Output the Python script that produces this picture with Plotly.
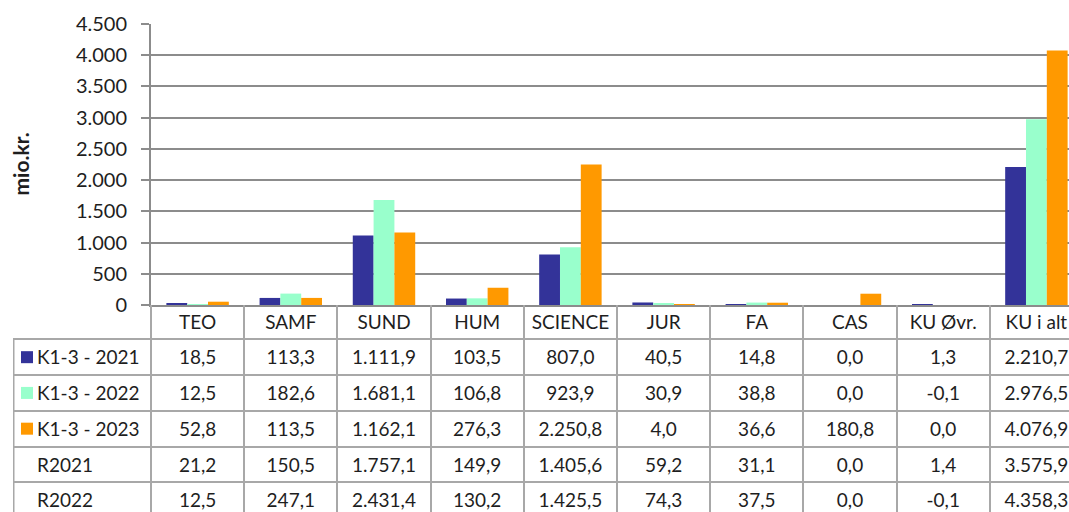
import plotly.graph_objects as go

# ---------------- data ----------------
categories = ["TEO", "SAMF", "SUND", "HUM", "SCIENCE", "JUR", "FA", "CAS", "KU Øvr.", "KU i alt"]
k13_2021 = [18.5, 113.3, 1111.9, 103.5, 807.0, 40.5, 14.8, 0.0, 1.3, 2210.7]
k13_2022 = [12.5, 182.6, 1681.1, 106.8, 923.9, 30.9, 38.8, 0.0, -0.1, 2976.5]
k13_2023 = [52.8, 113.5, 1162.1, 276.3, 2250.8, 4.0, 36.6, 180.8, 0.0, 4076.9]
r2021 = [21.2, 150.5, 1757.1, 149.9, 1405.6, 59.2, 31.1, 0.0, 1.4, 3575.9]
r2022 = [12.5, 247.1, 2431.4, 130.2, 1425.5, 74.3, 37.5, 0.0, -0.1, 4358.3]
bar_series = ["K1-3 - 2021", "K1-3 - 2022", "K1-3 - 2023"]
table_rows = ["K1-3 - 2021", "K1-3 - 2022", "K1-3 - 2023", "R2021", "R2022"]
y_ticks = [0, 500, 1000, 1500, 2000, 2500, 3000, 3500, 4000, 4500]
y_ticklabels = ["0", "500", "1.000", "1.500", "2.000", "2.500", "3.000", "3.500", "4.000", "4.500"]
y_title = "mio.kr."

# ---------------- style ----------------
colors = ["#333399", "#99FFCC", "#FF9900"]
FONT = "Lato"
TXT = "#1e1e1e"
GRID = "#8c8c8c"
TABLE_LINE = "#a8a8a8"
FS = 19

W, H = 1069, 512
plot_left_px, table_left_px = 151, 13
col_px = 93.2
plot_top_px, axis_px = 24, 305
header_bottom_px, row_px = 339.3, 35.75
text_dy = 0.07  # small downward nudge of table text within its row


def fmt(v):
    s = f"{v:,.1f}"
    return s.replace(",", "X").replace(".", ",").replace("X", ".")


x_end = -0.5 + (W - plot_left_px) / col_px
x2_start = -0.5 - (plot_left_px - table_left_px) / col_px
y2_top = 0.5 - (header_bottom_px - axis_px) / row_px
y2_bot = 0.5 + (H - header_bottom_px) / row_px

fig = go.Figure()

for name, vals, c in zip(bar_series, [k13_2021, k13_2022, k13_2023], colors):
    fig.add_trace(go.Bar(x=categories, y=vals, name=name, marker=dict(color=c, line=dict(width=0)),
                         xaxis="x", yaxis="y", showlegend=False))

idx = list(range(len(categories)))
# header row
fig.add_trace(go.Scatter(x=idx, y=[0 + text_dy] * len(idx), text=categories, mode="text",
                         textposition="middle center", textfont=dict(family=FONT, size=FS, color=TXT),
                         xaxis="x2", yaxis="y2", showlegend=False, hoverinfo="skip", cliponaxis=False))
# data rows
for r, vals in enumerate([k13_2021, k13_2022, k13_2023, r2021, r2022], start=1):
    fig.add_trace(go.Scatter(x=idx, y=[r + text_dy] * len(idx), text=[fmt(v) for v in vals], mode="text",
                             textposition="middle center", textfont=dict(family=FONT, size=FS, color=TXT),
                             xaxis="x2", yaxis="y2", showlegend=False, hoverinfo="skip", cliponaxis=False))
# legend column
rows_y = list(range(1, len(table_rows) + 1))
fig.add_trace(go.Scatter(x=[x2_start + 24 / col_px] * len(table_rows), y=[r + text_dy for r in rows_y],
                         text=table_rows, mode="text", textposition="middle right",
                         textfont=dict(family=FONT, size=FS, color=TXT),
                         xaxis="x2", yaxis="y2", showlegend=False, hoverinfo="skip"))
fig.add_trace(go.Scatter(x=[x2_start + 14 / col_px] * len(bar_series), y=rows_y[:len(bar_series)],
                         mode="markers", marker=dict(symbol="square", size=12, color=colors, line=dict(width=0)),
                         xaxis="x2", yaxis="y2", showlegend=False, hoverinfo="skip"))

# left border of the data rows (not header)
fig.add_shape(type="line", xref="x2", yref="y2", x0=x2_start + 0.008, x1=x2_start + 0.008,
              y0=0.5, y1=y2_bot, line=dict(color=TABLE_LINE, width=1.5))

y_dom = [(H - axis_px) / H, (H - plot_top_px) / H]
fig.update_layout(
    template="none",
    width=W, height=H, autosize=False,
    margin=dict(l=0, r=0, t=0, b=0, pad=0),
    paper_bgcolor="white", plot_bgcolor="rgba(0,0,0,0)",
    barmode="group", bargap=0.33, bargroupgap=0,
    font=dict(family=FONT, size=FS, color=TXT),
    xaxis=dict(domain=[plot_left_px / W, 1], type="category", range=[-0.5, x_end], automargin=False,
               showticklabels=False, ticks="", showgrid=False, zeroline=False,
               showline=True, linecolor=GRID, linewidth=2, anchor="y"),
    yaxis=dict(domain=y_dom, range=[0, 4500], tickvals=y_ticks, ticktext=y_ticklabels, automargin=False,
               showgrid=True, gridcolor=GRID, gridwidth=2, zeroline=False,
               showline=True, linecolor=GRID, linewidth=2,
               ticks="outside", ticklen=8, tickcolor=GRID, tickwidth=2, ticklabelstandoff=10,
               tickfont=dict(family=FONT, size=FS + 1, color=TXT), anchor="x"),
    xaxis2=dict(domain=[table_left_px / W, 1], range=[x2_start, x_end], automargin=False,
                tickvals=[i - 0.5 for i in idx], showticklabels=False, ticks="",
                showgrid=True, gridcolor=TABLE_LINE, gridwidth=1.5, zeroline=False,
                showline=False, anchor="y2"),
    yaxis2=dict(domain=[0, y_dom[0]], range=[y2_bot, y2_top], automargin=False,
                tickvals=[r + 0.5 for r in range(len(table_rows))], showticklabels=False, ticks="",
                showgrid=True, gridcolor=TABLE_LINE, gridwidth=1.5, zeroline=False,
                showline=False, anchor="x2"),
    annotations=[dict(text=f"<b>{y_title}</b>", textangle=-90, xref="paper", yref="paper",
                      x=20 / W, y=(y_dom[0] + y_dom[1]) / 2, xanchor="center", yanchor="middle",
                      showarrow=False, font=dict(family=FONT, size=FS + 2, color=TXT))],
    hovermode=False,
)

fig.write_html("out.html", config={"displayModeBar": False},
               post_script="document.body.style.margin='0';document.body.style.overflow='hidden';")
